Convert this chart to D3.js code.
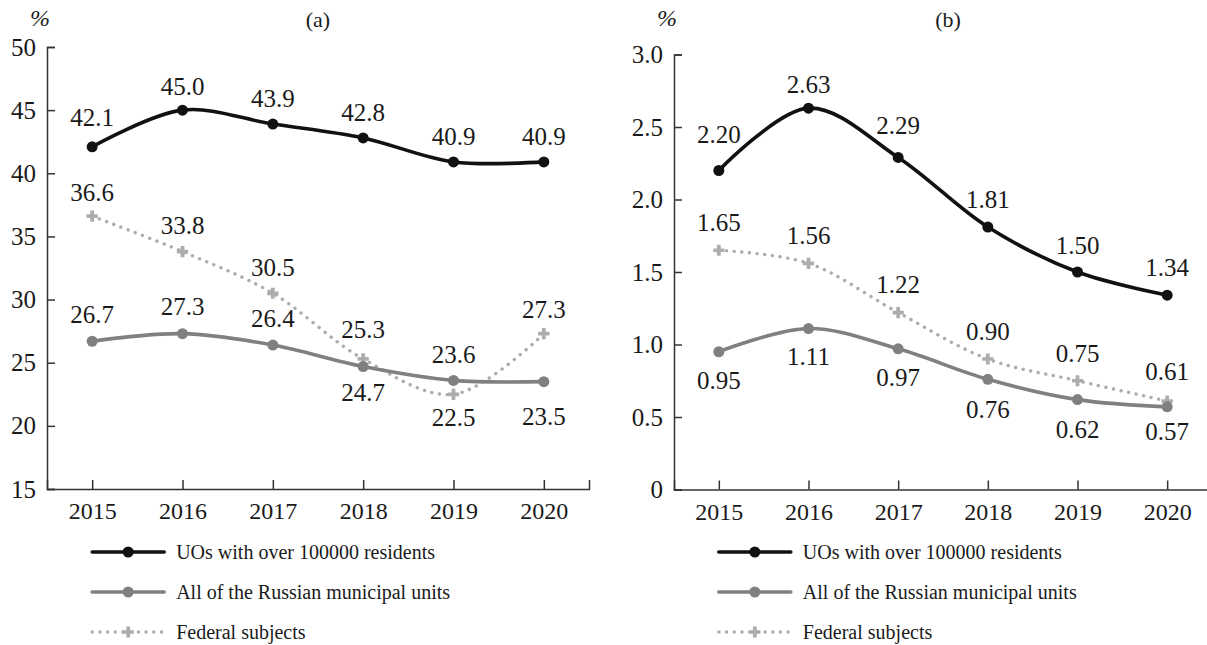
<!DOCTYPE html>
<meta charset="utf-8">
<head>
    <style>
        body, html {
            margin: 0;
            background: white;
            width: 100%;
            height: 100%;
        }
        svg text {
            font-family: "Liberation Serif", "Times New Roman", serif;
            fill: #1a1a1a;
        }
    </style>
    <script src="https://cdn.jsdelivr.net/npm/d3@7"></script>
</head>
<body>
<svg id="chart" width="1207" height="645"></svg>

<script>
    // data
    var years = ["2015", "2016", "2017", "2018", "2019", "2020"];
    var seriesNames = ["UOs with over 100000 residents", "All of the Russian municipal units", "Federal subjects"];

    var uoA = [42.1, 45.0, 43.9, 42.8, 40.9, 40.9];
    var allA = [26.7, 27.3, 26.4, 24.7, 23.6, 23.5];
    var fedA = [36.6, 33.8, 30.5, 25.3, 22.5, 27.3];

    var uoB = [2.20, 2.63, 2.29, 1.81, 1.50, 1.34];
    var allB = [0.95, 1.11, 0.97, 0.76, 0.62, 0.57];
    var fedB = [1.65, 1.56, 1.22, 0.90, 0.75, 0.61];

    var ticksA = [15, 20, 25, 30, 35, 40, 45, 50];
    var ticksB = [0, 0.5, 1.0, 1.5, 2.0, 2.5, 3.0];

    // label vertical offsets (layout only)
    var dyA = {
        uo: [-30, -24, -26, -26, -26, -26],
        all: [-27, -27, -27, 26, -26, 35],
        fed: [-24, -26, -26, -30, 23, -24]
    };
    var dyB = {
        uo: [-36, -24, -32, -28, -27, -28],
        all: [28, 28, 28, 30, 30, 24],
        fed: [-28, -28, -28, -28, -28, -30]
    };

    var styles = [
        {color: "#111111", width: 3.6, dash: null, marker: "circle"},
        {color: "#808080", width: 3.6, dash: null, marker: "circle"},
        {color: "#adadad", width: 3.4, dash: "0.1,7.6", marker: "cross"}
    ];

    var svg = d3.select("#chart");

    function drawPanel(opt) {
        var g = svg.append("g");
        var x = d3.scalePoint().domain(years).range([opt.left, opt.right]).padding(0.5);
        var y = d3.scaleLinear().domain(opt.domain).range([opt.bottom, opt.top]);

        // y axis
        var yAxis = d3.axisLeft(y).tickValues(opt.ticks).tickSize(-8).tickPadding(11)
            .tickFormat(opt.fmt);
        var ya = g.append("g").attr("transform", "translate(" + opt.left + ",0)").call(yAxis);
        ya.attr("font-family", null);
        ya.select(".domain").attr("stroke", "#333").attr("stroke-width", 1.5);
        ya.selectAll(".tick line").attr("stroke", "#333").attr("stroke-width", 1.5);
        ya.selectAll("text").style("font-size", "25px").attr("fill", "#1a1a1a");

        // x axis
        var xAxis = d3.axisBottom(x).tickSize(-9).tickPadding(13);
        var xa = g.append("g").attr("transform", "translate(0," + opt.bottom + ")").call(xAxis);
        xa.attr("font-family", null);
        xa.select(".domain").attr("stroke", "#333").attr("stroke-width", 1.5);
        xa.selectAll(".tick line").attr("stroke", "#333").attr("stroke-width", 1.5);
        xa.selectAll("text").style("font-size", "24px").attr("fill", "#1a1a1a");

        g.append("text").attr("x", opt.left - 7).attr("y", 26)
            .attr("text-anchor", "middle").style("font-size", "24px").style("font-style", "italic")
            .text("%");
        g.append("text").attr("x", opt.titleX).attr("y", 27)
            .attr("text-anchor", "middle").style("font-size", "22px")
            .text(opt.title);

        var line = d3.line()
            .x(function(d, i){ return x(years[i]); })
            .y(function(d){ return y(d); })
            .curve(d3.curveCatmullRom.alpha(0.5));

        var order = [2, 1, 0];
        order.forEach(function(s) {
            var st = styles[s];
            var vals = opt.series[s];
            g.append("path")
                .datum(vals)
                .attr("d", line)
                .attr("fill", "none")
                .attr("stroke", st.color)
                .attr("stroke-width", st.width)
                .attr("stroke-linecap", "round")
                .attr("stroke-dasharray", st.dash);
            drawMarkers(g, vals.map(function(v, i){ return [x(years[i]), y(v)]; }), st);
        });

        // value labels
        [0, 1, 2].forEach(function(s) {
            var vals = opt.series[s];
            var dys = opt.dy[s];
            g.selectAll(null).data(vals).enter().append("text")
                .attr("x", function(d, i){ return x(years[i]); })
                .attr("y", function(d, i){ return y(d) + dys[i]; })
                .attr("dy", "0.35em")
                .attr("text-anchor", "middle")
                .style("font-size", "25px")
                .text(function(d){ return opt.labelFmt(d); });
        });

        // legend
        var lx = x(years[0]);
        var leg = g.append("g");
        seriesNames.forEach(function(name, i) {
            var st = styles[i];
            var ly = 552 + i * 40;
            leg.append("line")
                .attr("x1", lx).attr("x2", lx + 72)
                .attr("y1", ly).attr("y2", ly)
                .attr("stroke", st.color)
                .attr("stroke-width", st.width)
                .attr("stroke-linecap", "round")
                .attr("stroke-dasharray", st.dash);
            drawMarkers(leg, [[lx + 36, ly]], st);
            leg.append("text")
                .attr("x", lx + 84).attr("y", ly)
                .attr("dy", "0.35em")
                .style("font-size", "20px")
                .text(name);
        });
    }

    function drawMarkers(g, pts, st) {
        if (st.marker === "circle") {
            g.selectAll(null).data(pts).enter().append("circle")
                .attr("cx", function(d){ return d[0]; })
                .attr("cy", function(d){ return d[1]; })
                .attr("r", 5.5)
                .attr("fill", st.color);
        } else {
            var sym = d3.symbol().type(d3.symbolCross).size(70);
            g.selectAll(null).data(pts).enter().append("path")
                .attr("d", sym)
                .attr("transform", function(d){ return "translate(" + d[0] + "," + d[1] + ")"; })
                .attr("fill", st.color);
        }
    }

    drawPanel({
        left: 47, right: 589, top: 47, bottom: 489,
        domain: [15, 50], ticks: ticksA,
        fmt: d3.format("d"), labelFmt: d3.format(".1f"),
        title: "(a)", titleX: 318,
        series: [uoA, allA, fedA],
        dy: [dyA.uo, dyA.all, dyA.fed]
    });

    drawPanel({
        left: 674, right: 1212, top: 54.5, bottom: 489.5,
        domain: [0, 3], ticks: ticksB,
        fmt: function(d){ return d === 0 ? "0" : d3.format(".1f")(d); }, labelFmt: d3.format(".2f"),
        title: "(b)", titleX: 948,
        series: [uoB, allB, fedB],
        dy: [dyB.uo, dyB.all, dyB.fed]
    });
</script>
</body>
